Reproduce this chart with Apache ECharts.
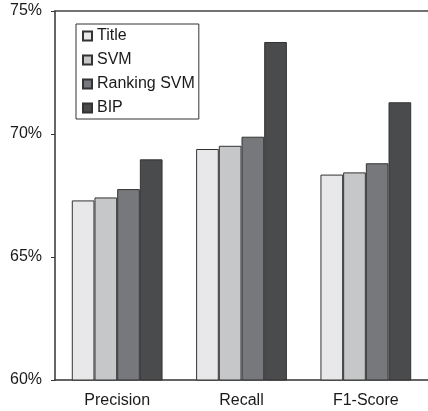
<!DOCTYPE html>
<html><head><meta charset="utf-8">
<script src="https://cdn.jsdelivr.net/npm/echarts@6/dist/echarts.min.js"></script>
<style>html,body{margin:0;padding:0;background:#fff}#c{width:428px;height:411px}</style>
</head><body><div id="c"></div>
<script>
const categories = ['Precision', 'Recall', 'F1-Score'];
const seriesNames = ['Title', 'SVM', 'Ranking SVM', 'BIP'];
const titleVals = [67.30, 69.39, 68.35];
const svmVals = [67.42, 69.52, 68.44];
const rankingSvmVals = [67.76, 69.89, 68.81];
const bipVals = [68.97, 73.74, 71.29];
const yTicks = [60, 65, 70, 75];
const colors = ['#e8e8ea', '#c6c7c9', '#77787c', '#4a4b4d'];

const values = [titleVals, svmVals, rankingSvmVals, bipVals];
const chart = echarts.init(document.getElementById('c'), null, {renderer: 'canvas'});
const font = 'Liberation Sans, Arial, sans-serif';
chart.setOption({
  animation: false,
  grid: {left: 55, right: 0, top: 11, bottom: 31},
  legend: {
    orient: 'vertical', left: 76, top: 24,
    data: seriesNames,
    itemWidth: 9, itemHeight: 9, itemGap: 6, itemTextGap: 3,
    padding: [3, 4, 2, 6],
    borderColor: '#333', borderWidth: 1,
    textStyle: {fontFamily: font, fontSize: 16, color: '#1a1a1a', lineHeight: 18},
    icon: 'rect'
  },
  xAxis: [{
    type: 'category', data: categories,
    axisLine: {lineStyle: {color: '#333', width: 1.5}},
    axisTick: {show: false},
    axisLabel: {fontFamily: font, fontSize: 16, color: '#1a1a1a', margin: 13}
  }, {
    type: 'category', data: categories, position: 'top',
    axisLine: {show: true, lineStyle: {color: '#444', width: 1.5}},
    axisTick: {show: false}, axisLabel: {show: false}
  }],
  yAxis: {
    type: 'value', min: yTicks[0], max: yTicks[yTicks.length - 1], interval: 5,
    axisLine: {show: true, lineStyle: {color: '#333', width: 1.5}},
    axisTick: {show: true, length: 4, lineStyle: {color: '#333'}},
    splitLine: {show: false},
    axisLabel: {fontFamily: font, fontSize: 16, color: '#1a1a1a', margin: 13, formatter: v => v + '%'}
  },
  series: seriesNames.map((n, i) => ({
    name: n, type: 'bar', data: values[i],
    barGap: '0%', barCategoryGap: '27%',
    itemStyle: {color: colors[i], borderColor: '#333', borderWidth: 1}
  }))
});
</script></body></html>
